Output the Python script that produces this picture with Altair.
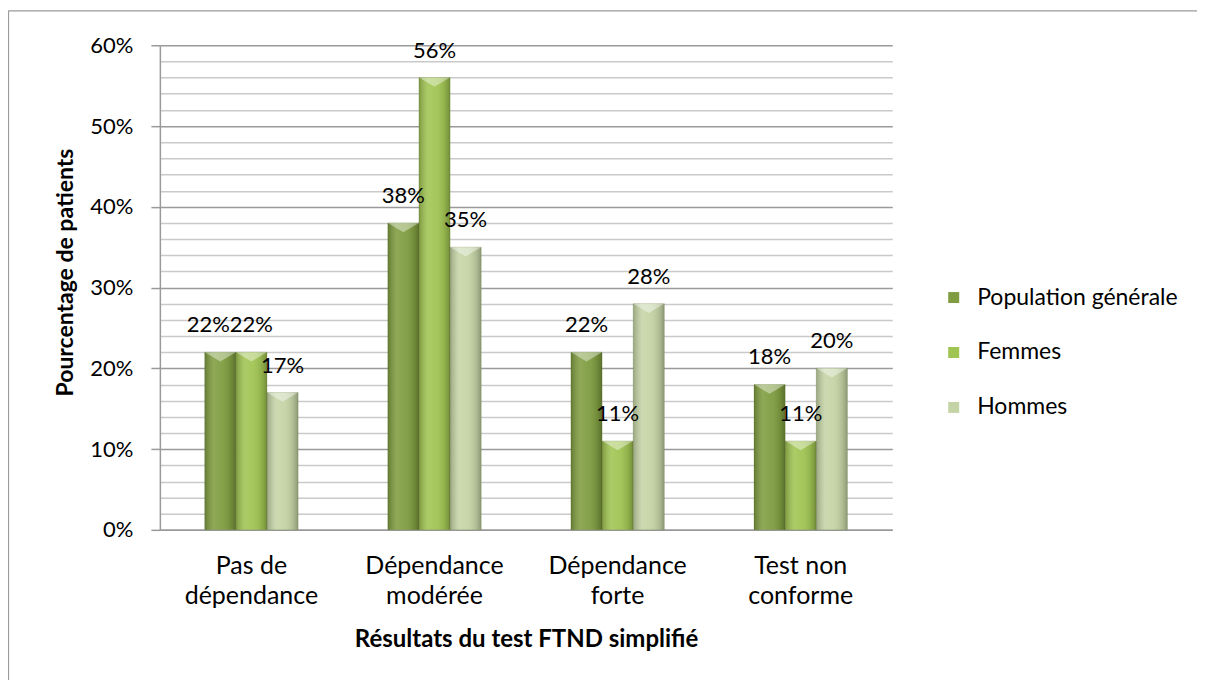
import altair as alt
import pandas as pd

categories = ["Pas de\ndépendance", "Dépendance\nmodérée", "Dépendance\nforte", "Test non\nconforme"]
series = ["Population générale", "Femmes", "Hommes"]
pop_generale = [22, 38, 22, 18]
femmes = [22, 56, 11, 11]
hommes = [17, 35, 28, 20]
series_colors = ["#7f9d40", "#a0c452", "#c5d4a6"]
y_ticks = list(range(0, 61, 2))

rows = []
for s, vals in zip(series, [pop_generale, femmes, hommes]):
    for c, v in zip(categories, vals):
        rows.append({"cat": c, "series": s, "value": v, "label": f"{v}%"})
df = pd.DataFrame(rows)

FONT = "Lato"
MAJOR = "datum.value % 10 === 0"

x_enc = alt.X(
    "cat:N", sort=categories,
    scale=alt.Scale(paddingInner=0.49, paddingOuter=0.245),
    axis=alt.Axis(
        title="Résultats du test FTND simplifié", titleFont=FONT, titleFontSize=24,
        titleFontWeight="bold", titleColor="#000", titleX=366.5, titleY=110,
        titleBaseline="middle", titleAlign="center",
        labelExpr="split(datum.label, '\\n')", labelFont=FONT, labelFontSize=25,
        labelColor="#000", labelAngle=0, labelLineHeight=30, labelPadding=24,
        ticks=False, tickSize=0, domainColor="#9a9a9a", domainWidth=1.5, grid=False,
    ),
)
y_enc = alt.Y(
    "value:Q", scale=alt.Scale(domain=[0, 60], nice=False, zero=True),
    axis=alt.Axis(
        title="Pourcentage de patients", titleFont=FONT, titleFontSize=23,
        titleFontWeight="bold", titleColor="#000", titleX=-94, titleY=227,
        titleAngle=270, titleAlign="center", titleBaseline="middle",
        values=y_ticks, labelExpr=f"{MAJOR} ? datum.value + '%' : ''",
        labelFont=FONT, labelFontSize=22, labelColor="#000", labelPadding=18,
        labelOverlap=False,
        tickSize=9, tickColor="#9a9a9a", tickWidth=1.5,
        tickOpacity={"condition": {"test": MAJOR, "value": 1}, "value": 0},
        grid=True, gridWidth=1.5,
        gridColor={"condition": {"test": MAJOR, "value": "#9a9a9a"}, "value": "#cacaca"},
        domainColor="#9a9a9a", domainWidth=1.5,
    ),
)
xo_enc = alt.XOffset("series:N", sort=series,
                     scale=alt.Scale(domain=series, paddingInner=0, paddingOuter=0))

base = alt.Chart(df)

bars = base.mark_bar(stroke="#5a7028", strokeWidth=0.4, strokeOpacity=0.6).encode(
    x=x_enc, y=y_enc, xOffset=xo_enc,
    color=alt.Color("series:N", sort=series,
                    scale=alt.Scale(domain=series, range=series_colors),
                    legend=alt.Legend(
                        title=None, orient="none", legendX=783, legendY=241,
                        symbolType="square", symbolSize=121, symbolStrokeWidth=0,
                        labelFont=FONT, labelFontSize=23, labelColor="#000",
                        labelOffset=12, rowPadding=31, padding=0, labelLimit=0,
                    )),
)

shade = base.mark_bar(
    color=alt.LinearGradient(
        gradient="linear", x1=0, x2=1, y1=0, y2=0,
        stops=[
            alt.GradientStop(color="rgba(0,0,0,0.22)", offset=0),
            alt.GradientStop(color="rgba(255,255,255,0.12)", offset=0.3),
            alt.GradientStop(color="rgba(255,255,255,0.05)", offset=0.55),
            alt.GradientStop(color="rgba(0,0,0,0.12)", offset=0.85),
            alt.GradientStop(color="rgba(0,0,0,0.28)", offset=1),
        ],
    )
).encode(x=x_enc, y=y_enc, xOffset=xo_enc)

bevel = base.mark_point(
    shape="M-1,0L1,0L0,0.6Z", filled=True, fill="#ffffff", fillOpacity=0.4,
    strokeWidth=0, size=960,
).encode(x=x_enc, y=y_enc, xOffset=xo_enc)

special = "datum.cat === 'Pas de\\ndépendance' && datum.series === 'Population générale'"
labels = base.mark_text(font=FONT, fontSize=22, color="#000", baseline="middle", dy=-27).encode(
    x=x_enc, y=y_enc, xOffset=xo_enc, text="label:N"
).transform_filter(f"!({special})")
labels_shift = base.mark_text(font=FONT, fontSize=22, color="#000", baseline="middle",
                              dy=-27, dx=-12).encode(
    x=x_enc, y=y_enc, xOffset=xo_enc, text="label:N"
).transform_filter(special)

frame_df = pd.DataFrame({"k": [0]})
frame_left = alt.Chart(frame_df).mark_rule(color="#9a9a9a", strokeWidth=1.2).encode(
    x=alt.value(-151.5), y=alt.value(-34.5), y2=alt.value(640))
frame_top = alt.Chart(frame_df).mark_rule(color="#9a9a9a", strokeWidth=1.2).encode(
    x=alt.value(-151.5), x2=alt.value(1040), y=alt.value(-34.5))

chart = alt.layer(
    frame_left, frame_top, bars, shade, bevel, labels, labels_shift
).properties(
    width=733, height=485,
    autosize=alt.AutoSizeParams(type="none"),
    padding={"left": 152, "top": 37, "right": 305, "bottom": 150},
    background="white",
).configure_view(stroke=None)

chart.save("out.html", embed_options={"renderer": "svg", "actions": False})
